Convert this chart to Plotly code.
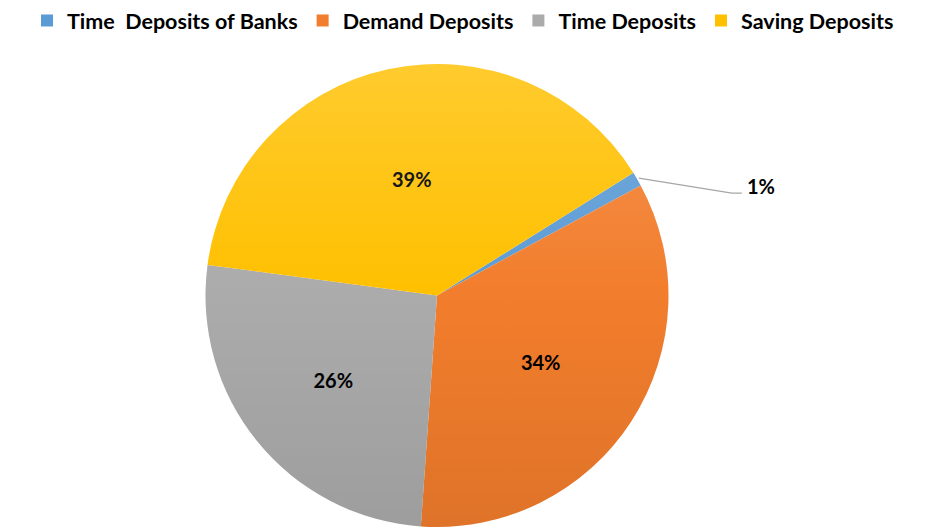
import base64
import math
import plotly.graph_objects as go

# Deposit composition (share of total, %)
labels = ["Time  Deposits of Banks", "Demand Deposits", "Time Deposits", "Saving Deposits"]
values = [1, 34, 26, 39]
colors = ["#5B9BD5", "#F27D2C", "#ABABAB", "#FFC000"]
start_angle = 58  # degrees clockwise from 12 o'clock where the first slice begins

W, H = 926, 531
CX, CY, R = 437, 295.5, 231.5  # pie centre and radius in pixels
FONT = "Lato"


def px_to_paper(x, y):
    return x / W, 1 - y / H


total = sum(values)
pcts = [f"{round(100 * v / total)}%" for v in values]
# the smallest slice gets an outside label with a leader line
small = values.index(min(values))
text_pos = ["none" if i == small else "inside" for i in range(len(values))]

fig = go.Figure(
    go.Pie(
        labels=labels,
        values=values,
        text=pcts,
        textinfo="text",
        textposition=text_pos,
        insidetextorientation="horizontal",
        textfont=dict(family=FONT, size=20, color="#000000", weight="bold"),
        marker=dict(colors=colors, line=dict(width=0)),
        sort=False,
        direction="clockwise",
        rotation=start_angle,
        domain=dict(x=[(CX - R) / W, (CX + R) / W], y=[(H - CY - R) / H, (H - CY + R) / H]),
        hoverinfo="label+percent",
    )
)

# soft vertical shading over the pie
svg = (
    '<svg xmlns="http://www.w3.org/2000/svg" width="400" height="400" viewBox="0 0 400 400">'
    '<defs><linearGradient id="g" x1="0" y1="0" x2="0" y2="1">'
    '<stop offset="0" stop-color="#ffffff" stop-opacity="0.18"/>'
    '<stop offset="0.5" stop-color="#ffffff" stop-opacity="0"/>'
    '<stop offset="0.5" stop-color="#000000" stop-opacity="0"/>'
    '<stop offset="1" stop-color="#000000" stop-opacity="0.08"/>'
    '</linearGradient></defs>'
    '<circle cx="200" cy="200" r="200" fill="url(#g)"/></svg>'
)
src = "data:image/svg+xml;base64," + base64.b64encode(svg.encode()).decode()
ix, iy = px_to_paper(CX - R, CY - R)
fig.add_layout_image(
    dict(source=src, xref="paper", yref="paper", x=ix, y=iy, sizex=2 * R / W, sizey=2 * R / H,
         xanchor="left", yanchor="top", sizing="stretch", layer="above")
)

# leader line and label for the small slice
mid = math.radians(start_angle + 360 * (sum(values[:small]) + values[small] / 2) / total)
ex, ey = CX + (R + 2) * math.sin(mid), CY - (R + 2) * math.cos(mid)
elbow = (ex + 93, ey + 15)
end = (elbow[0] + 10, elbow[1])
pts = [px_to_paper(ex, ey), px_to_paper(*elbow), px_to_paper(*end)]
path = "M {} {} L {} {} L {} {}".format(*[c for p in pts for c in p])
fig.add_shape(type="path", path=path, xref="paper", yref="paper",
              line=dict(color="#A6A6A6", width=1.3))
lx, ly = px_to_paper(end[0] + 3, end[1] - 7)
fig.add_annotation(x=lx, y=ly, xref="paper", yref="paper", text=pcts[small], showarrow=False,
                   xanchor="left", yanchor="middle",
                   font=dict(family=FONT, size=20, color="#000000", weight="bold"))

fig.update_layout(
    width=W,
    height=H,
    margin=dict(l=0, r=0, t=0, b=0),
    paper_bgcolor="#FFFFFF",
    plot_bgcolor="#FFFFFF",
    showlegend=True,
    legend=dict(
        orientation="h",
        x=0.5,
        xanchor="center",
        y=1.0,
        yanchor="top",
        bgcolor="rgba(0,0,0,0)",
        font=dict(family=FONT, size=21.5, color="#000000", weight="bold"),
        traceorder="normal",
    ),
)

fig.write_html("out.html")
